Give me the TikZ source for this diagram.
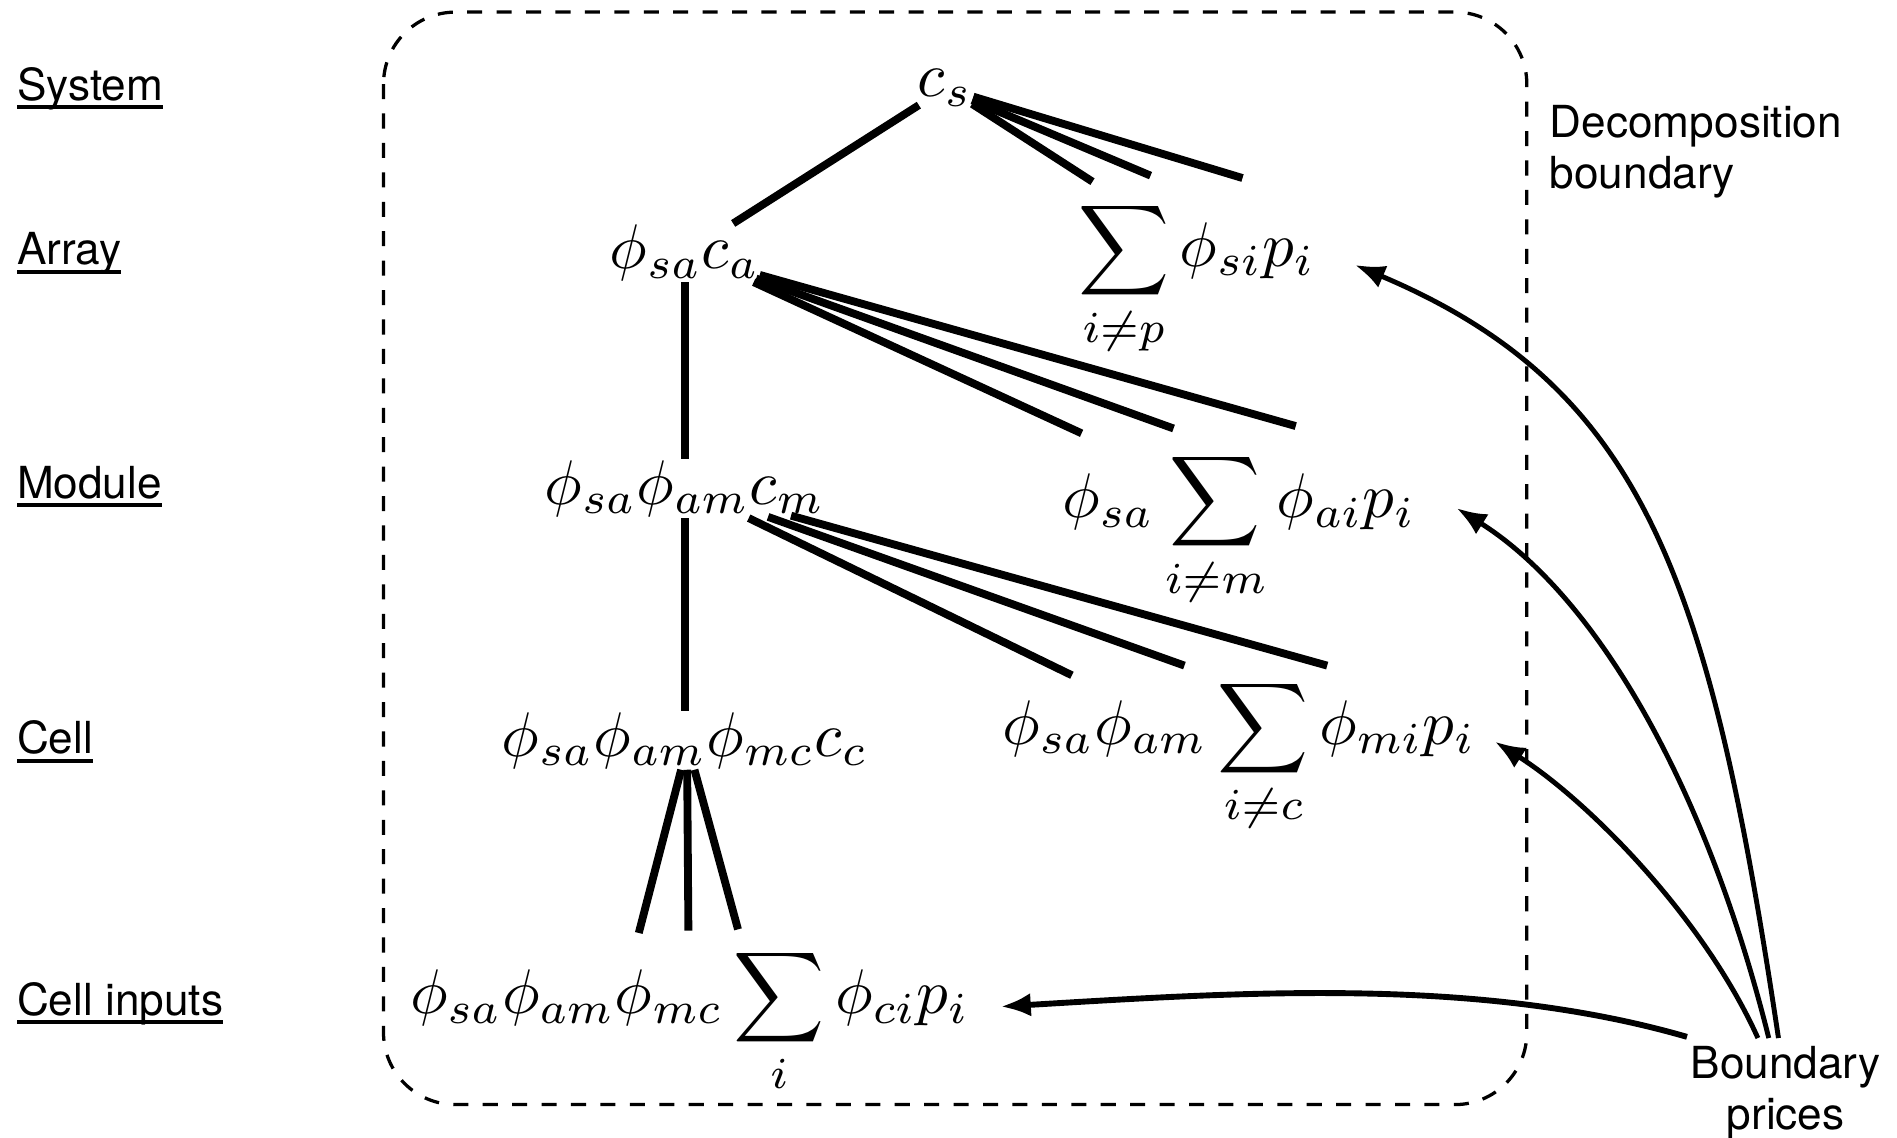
\documentclass[tikz,border=0pt]{standalone}
\usepackage{amsmath}
\usepackage{graphicx}
\usepackage{fontspec}
\newfontfamily\labelfont{TeX Gyre Heros}
\usetikzlibrary{arrows.meta,calc}
\def\levelname#1{\setbox0\hbox{#1}\rlap{\rule[-1.35pt]{\wd0}{0.6pt}}\box0}
\def\mterm#1{\scalebox{0.965}{$\displaystyle#1$}}

\begin{document}
\begin{tikzpicture}[x=0.185pt,y=-0.185pt,>={Latex[length=4.6pt,width=3.6pt]},
  lvl/.style={anchor=base west,inner sep=0pt,font=\labelfont\fontsize{6.75}{7.8}\selectfont},
  term/.style={anchor=base,inner sep=0pt},
  branch/.style={line width=1.2pt},
  price/.style={->,line width=0.75pt}]
\useasboundingbox (0,0) rectangle (1568,940);
\draw[line width=0.5pt,dash pattern=on 2.3pt off 2.2pt,rounded corners=11pt] (317,10) rectangle (1262,913);
\node[lvl,anchor=north west,align=left] (dbound) at (1280,86) {Decomposition\\boundary};
\node[lvl,anchor=north,align=center] (bprice) at (1476,864) {Boundary\\prices};
% level names
\node[lvl] (lsys) at (13,83) {\levelname{System}};
\node[lvl] (larr) at (13,219) {\levelname{Array}};
\node[lvl] (lmod) at (13,412) {\levelname{Module}};
\node[lvl] (lcell) at (13,623) {\levelname{Cell}};
\node[lvl] (linp) at (13,839) {\levelname{Cell inputs}};
% terms
\node[term] (cs) at (781,80) {\mterm{c_s}};
\node[term] (arr) at (566,222) {\mterm{\phi_{sa}c_a}};
\node[term] (arrsum) at (989,220) {\mterm{\sum_{i\neq p}\phi_{si}p_i}};
\node[term] (mod) at (566,417) {\mterm{\phi_{sa}\phi_{am}c_m}};
\node[term] (modsum) at (1024,428) {\mterm{\phi_{sa}\sum_{i\neq m}\phi_{ai}p_i}};
\node[term] (cell) at (566,625) {\mterm{\phi_{sa}\phi_{am}\phi_{mc}c_c}};
\node[term] (cellsum) at (1024,615) {\mterm{\phi_{sa}\phi_{am}\sum_{i\neq c}\phi_{mi}p_i}};
\node[term] (inp) at (570,838) {\mterm{\phi_{sa}\phi_{am}\phi_{mc}\sum_{i}\phi_{ci}p_i}};
% system to array
\draw[branch] ($(cs.south west)+(2,-2)$) -- ($(arr.north)+(40,0)$);
\draw[branch] ($(cs.south east)+(-1,-3)$) -- ($(arrsum.north)+(-86,-14)$);
\draw[branch] ($(cs.south east)+(-1,-6)$) -- ($(arrsum.north)+(-38,-19)$);
\draw[branch] ($(cs.south east)+(0,-9)$) -- ($(arrsum.north)+(38,-17)$);
% array to module
\draw[branch] (arr.south) -- (mod.north);
\draw[branch] ($(arr.south east)+(-6,0)$) -- ($(modsum.north)+(-130,-14)$);
\draw[branch] ($(arr.south east)+(-4,-3)$) -- ($(modsum.north)+(-54,-18)$);
\draw[branch] ($(arr.south east)+(-1,-6)$) -- ($(modsum.north)+(47,-20)$);
% module to cell
\draw[branch] (mod.south) -- (cell.north);
\draw[branch] ($(mod.south east)+(-64,0)$) -- ($(cellsum.north)+(-138,-1)$);
\draw[branch] ($(mod.south east)+(-48,-1)$) -- ($(cellsum.north)+(-45,-9)$);
\draw[branch] ($(mod.south east)+(-29,-2)$) -- ($(cellsum.north)+(73,-9)$);
% cell to inputs
\draw[branch] ($(cell.south)+(-3,0)$) -- ($(inp.north)+(-42,-11)$);
\draw[branch] ($(cell.south)+(2,0)$) -- ($(inp.north)+(-1,-13)$);
\draw[branch] ($(cell.south)+(8,0)$) -- ($(inp.north)+(40,-14)$);
% boundary prices
\draw[price] ($(bprice.north)+(-6,-6)$) .. controls +(-57,-380) and +(239,101) .. ($(arrsum.base east)+(32,-1)$);
\draw[price] ($(bprice.north)+(-14,-6)$) .. controls +(-55,-220) and +(110,69) .. ($(modsum.base east)+(33,-8)$);
\draw[price] ($(bprice.north)+(-23,-6)$) .. controls +(-45,-100) and +(76,48) .. ($(cellsum.base east)+(15,-2)$);
\draw[price,line width=0.9pt] ($(bprice.north west)+(-2,-7)$) .. controls +(-173,-50) and +(200,-12) .. ($(inp.base east)+(25,-6)$);
\end{tikzpicture}
\end{document}
